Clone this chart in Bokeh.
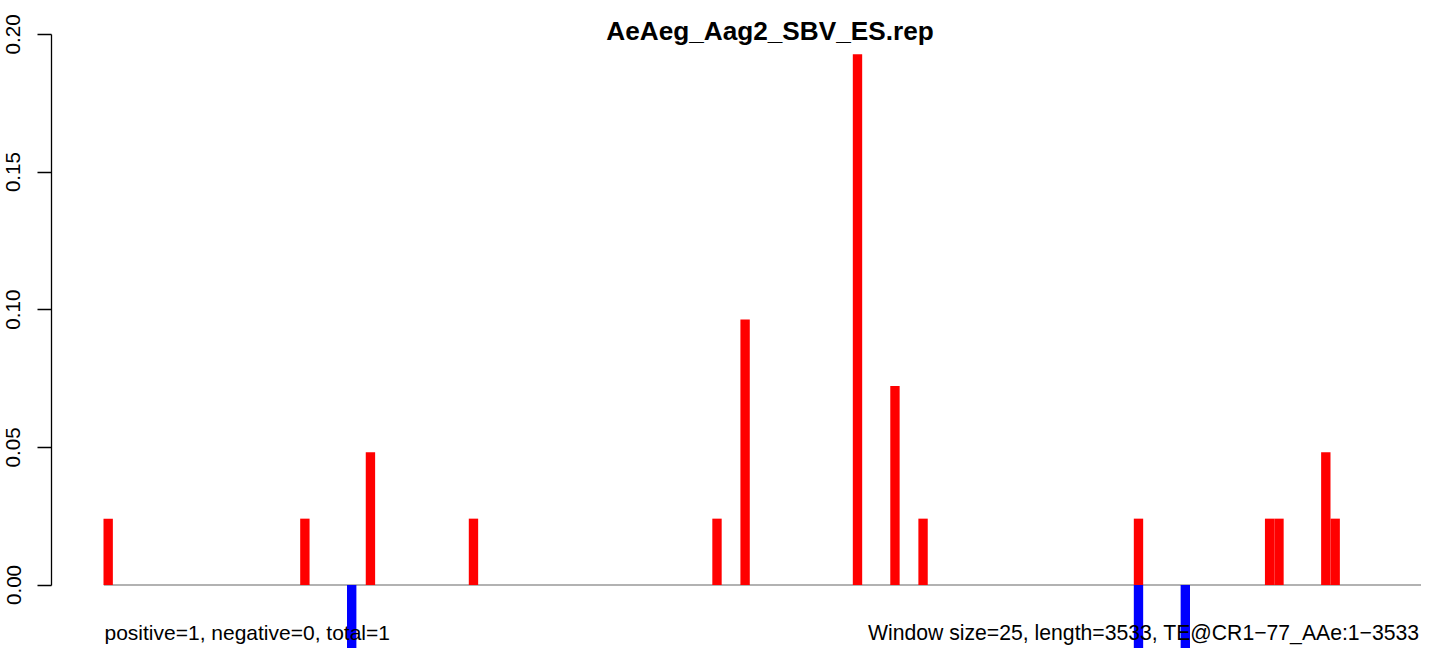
from bokeh.plotting import figure
from bokeh.models import Range1d, FixedTicker, PrintfTickFormatter, Label
from bokeh.embed import file_html
from bokeh.resources import INLINE

# ---------------- data ----------------
title_text = "AeAeg_Aag2_SBV_ES.rep"
window_size = 25
seq_length = 3533
pos_bins = [0, 21, 28, 39, 65, 68, 80, 84, 87, 110, 124, 125, 130, 131]
pos_vals = [0.0241, 0.0241, 0.0482, 0.0241, 0.0241, 0.0964, 0.1928, 0.0723,
            0.0241, 0.0241, 0.0241, 0.0241, 0.0482, 0.0241]
neg_bins = [26, 110, 115]
neg_vals = [-0.0241, -0.0241, -0.0241]
y_ticks = [0.0, 0.05, 0.10, 0.15, 0.20]
left_note = "positive=1, negative=0, total=1"
right_note = "Window size=25, length=3533, TE@CR1\u221277_AAe:1\u22123533"

# ---------------- layout constants (pixels in the figure) ----------------
W, H = 1421, 648
FRAME_L = 51            # frame left inside figure
PX_PER_NT = 0.374656
X0_PX = 103.0           # where nucleotide 0 sits
Y0_PX = 584.5           # where y=0 sits (from top)
PX_PER_UNIT = 2753.0

def px_to_x(px):
    return (px - X0_PX) / PX_PER_NT

def px_to_y(py):
    return (Y0_PX - py) / PX_PER_UNIT

x_start = px_to_x(FRAME_L)
x_end = px_to_x(W)
y_end = px_to_y(0)
y_start = px_to_y(H)

FONT = "Liberation Sans"

p = figure(width=W, height=H, output_backend="svg", toolbar_location=None,
           x_range=Range1d(x_start, x_end), y_range=Range1d(y_start, y_end),
           x_axis_type=None, min_border_left=FRAME_L, min_border_right=0,
           min_border_top=0, min_border_bottom=0, title=None)
p.outline_line_color = None
p.xgrid.visible = False
p.ygrid.visible = False
p.background_fill_color = "white"
p.border_fill_color = "white"

ax = p.yaxis[0]
ax.ticker = FixedTicker(ticks=y_ticks)
ax.formatter = PrintfTickFormatter(format="%.2f")
ax.bounds = (y_ticks[0], y_ticks[-1])
ax.axis_line_width = 1.3
ax.axis_line_color = "black"
ax.major_tick_line_width = 1.3
ax.major_tick_line_color = "black"
ax.major_tick_out = 14
ax.major_tick_in = 0
ax.minor_tick_out = 0
ax.minor_tick_in = 0
ax.major_label_orientation = "vertical"
ax.major_label_text_font = FONT
ax.major_label_text_font_size = "20.6px"
ax.major_label_text_color = "black"
ax.major_label_standoff = 17

# baseline
p.segment(x0=[1], y0=[0], x1=[seq_length], y1=[0], line_color="#999999", line_width=1.4)

# bars
pos_x = [b * window_size + window_size / 2 for b in pos_bins]
neg_x = [b * window_size + window_size / 2 for b in neg_bins]
p.vbar(x=pos_x, width=window_size, bottom=0, top=pos_vals, fill_color="#FF0000", line_color=None)
p.vbar(x=neg_x, width=window_size, bottom=0, top=neg_vals, fill_color="#0000FF", line_color=None)

# texts
p.add_layout(Label(x=px_to_x(769.5), y=px_to_y(30), text=title_text, text_align="center",
                   text_baseline="alphabetic", text_font=FONT, text_font_size="26.2px",
                   text_font_style="bold", text_color="black"))
p.add_layout(Label(x=px_to_x(104), y=px_to_y(632), text=left_note, text_align="left",
                   text_baseline="alphabetic", text_font=FONT, text_font_size="21px",
                   text_color="black"))
p.add_layout(Label(x=px_to_x(1419), y=px_to_y(632), text=right_note, text_align="right",
                   text_baseline="alphabetic", text_font=FONT, text_font_size="21.2px",
                   text_color="black"))

open("out.html", "w").write(file_html(p, INLINE))
